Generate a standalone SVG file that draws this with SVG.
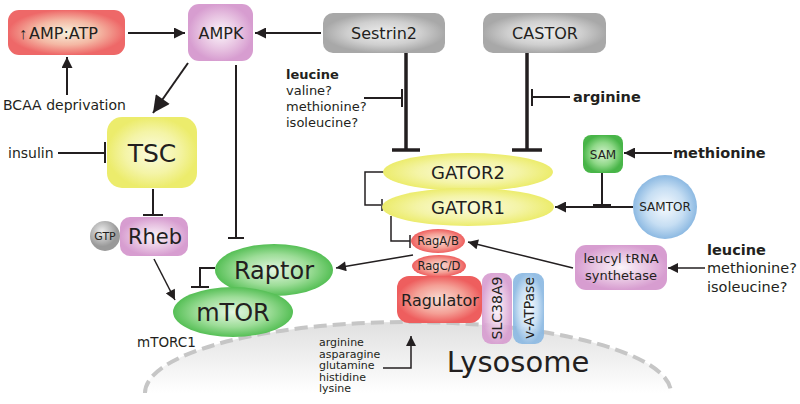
<svg xmlns="http://www.w3.org/2000/svg" width="800" height="404" viewBox="0 0 800 404">
<style>
text{font-family:"DejaVu Sans","Liberation Sans",sans-serif;fill:#231f20}
.c{text-anchor:middle}
.b{font-weight:bold}
.ln{stroke:#231f20;stroke-width:2;fill:none}
.tk{stroke:#231f20;stroke-width:3.5;fill:none}
.th{stroke:#231f20;stroke-width:1.5;fill:none}
</style>
<defs>
<marker id="arr" viewBox="0 0 10 10" refX="10" refY="5" markerWidth="12" markerHeight="11" markerUnits="userSpaceOnUse" orient="auto"><path d="M0,0L10,5L0,10z" fill="#231f20"/></marker>
<marker id="arrS" viewBox="0 0 10 10" refX="10" refY="5" markerWidth="11" markerHeight="10" markerUnits="userSpaceOnUse" orient="auto"><path d="M0,0L10,5L0,10z" fill="#231f20"/></marker>
<marker id="arrL" viewBox="0 0 10 10" refX="10" refY="5" markerWidth="19" markerHeight="17" markerUnits="userSpaceOnUse" orient="auto"><path d="M0,0L10,5L0,10z" fill="#231f20"/></marker>
<radialGradient id="gRed"><stop offset="0" stop-color="#f7f1dc"/><stop offset="0.55" stop-color="#f4b8a4"/><stop offset="1" stop-color="#ee6868"/></radialGradient>
<radialGradient id="gPink"><stop offset="0" stop-color="#fbf5fa"/><stop offset="0.6" stop-color="#e7c2e1"/><stop offset="1" stop-color="#d79dd0"/></radialGradient>
<radialGradient id="gGray"><stop offset="0" stop-color="#eeeeee"/><stop offset="0.6" stop-color="#cfcfcf"/><stop offset="1" stop-color="#a8a8a8"/></radialGradient>
<radialGradient id="gYel"><stop offset="0" stop-color="#fbfbe0"/><stop offset="0.6" stop-color="#f4f4a6"/><stop offset="1" stop-color="#ecec6c"/></radialGradient>
<radialGradient id="gGrn"><stop offset="0" stop-color="#e4f6e2"/><stop offset="0.6" stop-color="#9ddd98"/><stop offset="1" stop-color="#55bf55"/></radialGradient>
<radialGradient id="gSam"><stop offset="0" stop-color="#d6f2d0"/><stop offset="0.6" stop-color="#8fd888"/><stop offset="1" stop-color="#48b548"/></radialGradient>
<radialGradient id="gBlue"><stop offset="0" stop-color="#f6fafe"/><stop offset="0.6" stop-color="#c6def3"/><stop offset="1" stop-color="#8cb9e2"/></radialGradient>
<radialGradient id="gGtp" cx="0.4" cy="0.35"><stop offset="0" stop-color="#eeeeee"/><stop offset="1" stop-color="#9a9a9a"/></radialGradient>
<radialGradient id="gRag"><stop offset="0" stop-color="#f9ded6"/><stop offset="0.6" stop-color="#f4a096"/><stop offset="1" stop-color="#ee5e5e"/></radialGradient>
<linearGradient id="gLys" x1="0" y1="0" x2="0" y2="1"><stop offset="0" stop-color="#e0e0e0"/><stop offset="1" stop-color="#ffffff"/></linearGradient>
</defs>

<g id="lysosome">
<path d="M145,393 A263,71 0 0 1 671,393 Z" fill="url(#gLys)"/>
<path d="M145,393 A263,71 0 0 1 671,393" fill="none" stroke="#c6c6c6" stroke-width="4" stroke-dasharray="13,6"/>
<text x="518" y="372" class="c" font-size="29">Lysosome</text>
</g>

<g id="connectors">
<line class="ln" x1="128" y1="33" x2="185" y2="33" marker-end="url(#arr)"/>
<line class="ln" x1="67" y1="95" x2="67" y2="57" marker-end="url(#arr)"/>
<line class="ln" x1="188" y1="63" x2="153" y2="113" marker-end="url(#arrL)"/>
<line class="ln" x1="321" y1="33" x2="255" y2="33" marker-end="url(#arr)"/>
<line class="ln" x1="236" y1="65" x2="236" y2="238"/><line class="ln" x1="228" y1="238" x2="244" y2="238"/>
<line class="tk" x1="406" y1="53" x2="406" y2="150"/><line class="tk" x1="392" y1="150" x2="420" y2="150"/>
<line class="ln" x1="364" y1="98" x2="402" y2="98"/><line class="ln" x1="402" y1="89" x2="402" y2="107"/>
<line class="tk" x1="527" y1="53" x2="527" y2="150"/><line class="tk" x1="512" y1="150" x2="542" y2="150"/>
<line class="ln" x1="570" y1="97" x2="532" y2="97"/><line class="ln" x1="532" y1="89" x2="532" y2="106"/>
<polyline class="th" points="385,172 365,172 365,205 381,205"/><line class="th" x1="382" y1="199" x2="382" y2="211"/>
<polyline class="th" points="391,216 391,241 410,241"/><line class="th" x1="410" y1="235" x2="410" y2="248"/>
<line class="ln" x1="602" y1="173" x2="602" y2="205"/><line class="ln" x1="593" y1="205" x2="611" y2="205"/>
<line class="ln" x1="633" y1="207" x2="555" y2="207" marker-end="url(#arr)"/>
<line class="ln" x1="672" y1="153" x2="624" y2="153" marker-end="url(#arr)"/>
<line class="th" x1="573" y1="268" x2="468" y2="242" marker-end="url(#arrS)"/>
<line class="th" x1="705" y1="268" x2="668" y2="268" marker-end="url(#arrS)"/>
<line class="th" x1="413" y1="255" x2="336" y2="268" marker-end="url(#arrS)"/>
<polyline class="ln" points="215,268 200,268 200,287"/><line class="ln" x1="191" y1="287" x2="209" y2="287"/>
<line class="th" x1="154" y1="259" x2="175" y2="300" marker-end="url(#arrS)"/>
<line class="ln" x1="153" y1="189" x2="153" y2="215"/><line class="ln" x1="143" y1="215" x2="163" y2="215"/>
<line class="ln" x1="58" y1="153" x2="105" y2="153"/><line class="ln" x1="105" y1="142" x2="105" y2="163"/>
<polyline class="th" points="383,368 411,368 411,336" marker-end="url(#arrS)"/>
</g>

<g id="ampatp"><rect x="8" y="10" width="117" height="45" rx="11" fill="url(#gRed)"/><text x="23" y="39" class="c" font-size="16" style="font-family:'Liberation Sans',sans-serif">↑</text><text x="29" y="39" font-size="16">AMP:ATP</text></g>
<g id="ampk"><rect x="188" y="4" width="65" height="57" rx="11" fill="url(#gPink)"/><text x="221" y="39" class="c" font-size="16">AMPK</text></g>
<g id="bcaa"><text x="3" y="110" font-size="14">BCAA deprivation</text></g>
<g id="sestrin2"><rect x="323" y="13" width="122" height="40" rx="10" fill="url(#gGray)"/><text x="384" y="39" class="c" font-size="16">Sestrin2</text></g>
<g id="castor"><rect x="483" y="13" width="123" height="40" rx="10" fill="url(#gGray)"/><text x="545" y="39" class="c" font-size="16">CASTOR</text></g>
<g id="leu1"><text x="286" y="79" font-size="13" class="b">leucine</text><text x="286" y="95" font-size="13">valine?</text><text x="286" y="111" font-size="13">methionine?</text><text x="286" y="127" font-size="13">isoleucine?</text></g>
<g id="arginine"><text x="573" y="102" font-size="14.5" class="b">arginine</text></g>
<g id="tsc"><rect x="107" y="117" width="90" height="71" rx="15" fill="url(#gYel)"/><text x="152" y="162" class="c" font-size="25">TSC</text></g>
<g id="insulin"><text x="8" y="158" font-size="14">insulin</text></g>
<g id="rheb"><rect x="120" y="217" width="68" height="39" rx="10" fill="url(#gPink)"/><text x="155" y="244" class="c" font-size="21">Rheb</text></g>
<g id="gtp"><circle cx="105" cy="236" r="15" fill="url(#gGtp)"/><text x="105" y="240" class="c" font-size="11">GTP</text></g>
<g id="raptor"><ellipse cx="274" cy="270" rx="59" ry="26" fill="url(#gGrn)"/><text x="274" y="279" class="c" font-size="24">Raptor</text></g>
<g id="mtor"><ellipse cx="233" cy="312" rx="60" ry="25" fill="url(#gGrn)"/><text x="233" y="321" class="c" font-size="24">mTOR</text></g>
<g id="mtorc1"><text x="137" y="347" font-size="13.5">mTORC1</text></g>
<g id="gator2"><ellipse cx="468" cy="172" rx="85" ry="19" fill="url(#gYel)"/><text x="468" y="179" class="c" font-size="18">GATOR2</text></g>
<g id="gator1"><ellipse cx="468" cy="207" rx="86" ry="19" fill="url(#gYel)"/><text x="468" y="214" class="c" font-size="18">GATOR1</text></g>
<g id="ragab"><ellipse cx="438" cy="241" rx="27" ry="12" fill="url(#gRag)"/><text x="438" y="245" class="c" font-size="11.5">RagA/B</text></g>
<g id="ragcd"><ellipse cx="439" cy="266" rx="27" ry="11" fill="url(#gRag)"/><text x="439" y="270" class="c" font-size="11.5">RagC/D</text></g>
<g id="ragulator"><rect x="397" y="276" width="85" height="47" rx="12" fill="url(#gRag)"/><text x="440" y="306" class="c" font-size="16">Ragulator</text></g>
<g id="slc38a9"><rect x="482" y="273" width="30" height="71" rx="9" fill="url(#gPink)" opacity="0.92"/><text transform="translate(502,308) rotate(-90)" class="c" font-size="14">SLC38A9</text></g>
<g id="vatpase"><rect x="513" y="273" width="31" height="71" rx="9" fill="url(#gBlue)" opacity="0.92"/><text transform="translate(534,308) rotate(-90)" class="c" font-size="14">v-ATPase</text></g>
<g id="aminoacids"><text x="319" y="346" font-size="11">arginine</text><text x="319" y="357.5" font-size="11">asparagine</text><text x="319" y="369" font-size="11">glutamine</text><text x="319" y="380.5" font-size="11">histidine</text><text x="319" y="392" font-size="11">lysine</text></g>
<g id="sam"><rect x="583" y="135" width="40" height="38" rx="8" fill="url(#gSam)"/><text x="603" y="159" class="c" font-size="12">SAM</text></g>
<g id="methionine"><text x="673" y="158" font-size="14.5" class="b">methionine</text></g>
<g id="samtor"><circle cx="665" cy="207" r="32" fill="url(#gBlue)"/><text x="665" y="211" class="c" font-size="12">SAMTOR</text></g>
<g id="leucyl"><rect x="575" y="245" width="92" height="45" rx="11" fill="url(#gPink)"/><text x="621" y="263" class="c" font-size="13">leucyl tRNA</text><text x="621" y="280" class="c" font-size="13">synthetase</text></g>
<g id="leu2"><text x="707" y="255" font-size="14.5" class="b">leucine</text><text x="707" y="273" font-size="14.5">methionine?</text><text x="707" y="292" font-size="14.5">isoleucine?</text></g>
</svg>
